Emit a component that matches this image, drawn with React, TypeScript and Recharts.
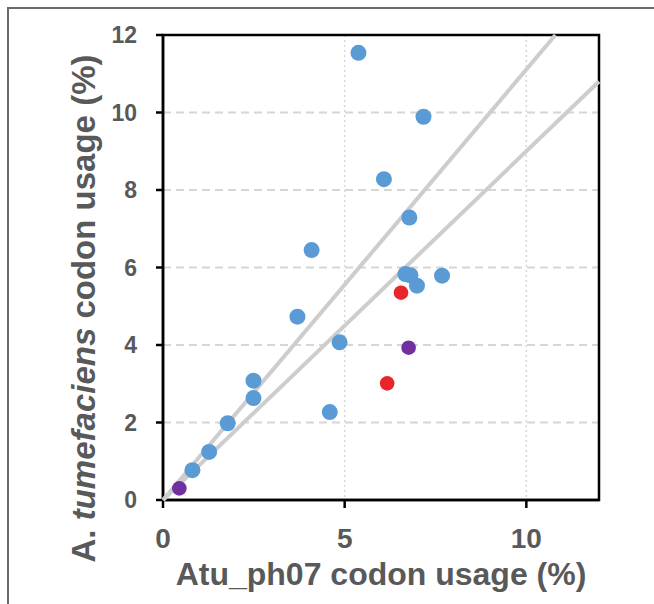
import React from 'react';
import {
  ScatterChart,
  Scatter,
  XAxis,
  YAxis,
  CartesianGrid,
  ReferenceArea,
} from 'recharts';

// ---- data ----
const blueX = [5.38, 7.17, 6.08, 6.78, 4.09, 6.67, 6.81, 6.99, 7.68, 3.7, 4.86, 2.49, 2.49, 4.59, 1.78, 1.27, 0.81];
const blueY = [11.54, 9.89, 8.28, 7.29, 6.45, 5.83, 5.8, 5.53, 5.79, 4.73, 4.07, 3.08, 2.63, 2.27, 1.98, 1.24, 0.77];
const redX = [6.55, 6.17];
const redY = [5.35, 3.01];
const purpleX = [6.76, 0.45];
const purpleY = [3.93, 0.3];

// two guide lines through the origin
const steepLineX = [0, 10.8];
const steepLineY = [0, 12];
const shallowLineX = [0, 12];
const shallowLineY = [0, 10.8];

const xTicks = [0, 5, 10];
const yTicks = [0, 2, 4, 6, 8, 10, 12];
const axisMax = 12;

const xTitle = 'Atu_ph07 codon usage (%)';
const yTitleParts = ['A. ', 'tumefaciens', ' codon usage (%)'];

const colors = {
  blue: '#5b9bd5',
  red: '#e8262a',
  purple: '#7030a0',
  guide: '#cdcdcd',
  text: '#595959',
  grid: '#d6d6d6',
};

const font = '"Liberation Sans", Arial, sans-serif';

const toPoints = (xs: number[], ys: number[]) => xs.map((x, i) => ({ x, y: ys[i] }));

const dot = (fill: string, r: number) => (props: any) => (
  <circle cx={props.cx} cy={props.cy} r={r} fill={fill} />
);

function XTitle(props: any) {
  const { x, y, width } = props.viewBox;
  return (
    <text x={x + width / 2} y={y + 85} textAnchor="middle" fontFamily={font} fontWeight="bold" fontSize={32} fill={colors.text}>
      {xTitle}
    </text>
  );
}

function YTitle(props: any) {
  const { y, height } = props.viewBox;
  const cx = 95;
  const cy = y + height / 2 + 41;
  return (
    <text x={cx} y={cy} transform={`rotate(-90, ${cx}, ${cy})`} textAnchor="middle" fontFamily={font} fontWeight="bold" fontSize={33} fill={colors.text}>
      <tspan>{yTitleParts[0]}</tspan>
      <tspan fontStyle="italic">{yTitleParts[1]}</tspan>
      <tspan>{yTitleParts[2]}</tspan>
    </text>
  );
}

export default function App() {
  return (
    <div style={{ position: 'absolute', left: 0, top: 0, width: 654, height: 604, overflow: 'hidden', background: '#fff' }}>
      <div style={{ position: 'absolute', left: 7, top: 7, width: 680, height: 640, border: '2px solid #6a6a6a' }} />
      <div style={{ position: 'absolute', left: 0, top: 0 }}>
        <ScatterChart width={654} height={604} margin={{ top: 35, right: 55, left: 103, bottom: 44 }}>
          <CartesianGrid horizontal vertical={false} stroke={colors.grid} strokeWidth={2} strokeDasharray="8 5" />
          <CartesianGrid horizontal={false} vertical stroke={colors.grid} strokeWidth={1.5} strokeDasharray="2 3" />
          <XAxis
            type="number"
            dataKey="x"
            domain={[0, axisMax]}
            ticks={xTicks}
            interval={0}
            height={60}
            axisLine={{ stroke: '#000', strokeWidth: 2.5 }}
            tickLine={{ stroke: '#000', strokeWidth: 2.5 }}
            tickSize={8}
            tickMargin={20}
            tick={{ fill: colors.text, fontSize: 28, fontWeight: 'bold', fontFamily: font }}
            label={<XTitle />}
          />
          <YAxis
            type="number"
            dataKey="y"
            domain={[0, axisMax]}
            ticks={yTicks}
            interval={0}
            width={60}
            axisLine={{ stroke: '#000', strokeWidth: 2.5 }}
            tickLine={{ stroke: '#000', strokeWidth: 2.5 }}
            tickSize={7}
            tickMargin={19}
            tick={{ fill: colors.text, fontSize: 23, fontWeight: 'bold', fontFamily: font }}
            label={<YTitle />}
          />
          <ReferenceArea x1={0} x2={axisMax} y1={0} y2={axisMax} fill="none" stroke="#000" strokeWidth={2.5} ifOverflow="visible" />
          <Scatter
            data={toPoints(steepLineX, steepLineY)}
            line={{ stroke: colors.guide, strokeWidth: 4 }}
            shape={() => <g />}
            isAnimationActive={false}
          />
          <Scatter
            data={toPoints(shallowLineX, shallowLineY)}
            line={{ stroke: colors.guide, strokeWidth: 4 }}
            shape={() => <g />}
            isAnimationActive={false}
          />
          <Scatter data={toPoints(blueX, blueY)} shape={dot(colors.blue, 8)} isAnimationActive={false} />
          <Scatter data={toPoints(redX, redY)} shape={dot(colors.red, 7.3)} isAnimationActive={false} />
          <Scatter data={toPoints(purpleX, purpleY)} shape={dot(colors.purple, 7.3)} isAnimationActive={false} />
        </ScatterChart>
      </div>
    </div>
  );
}
